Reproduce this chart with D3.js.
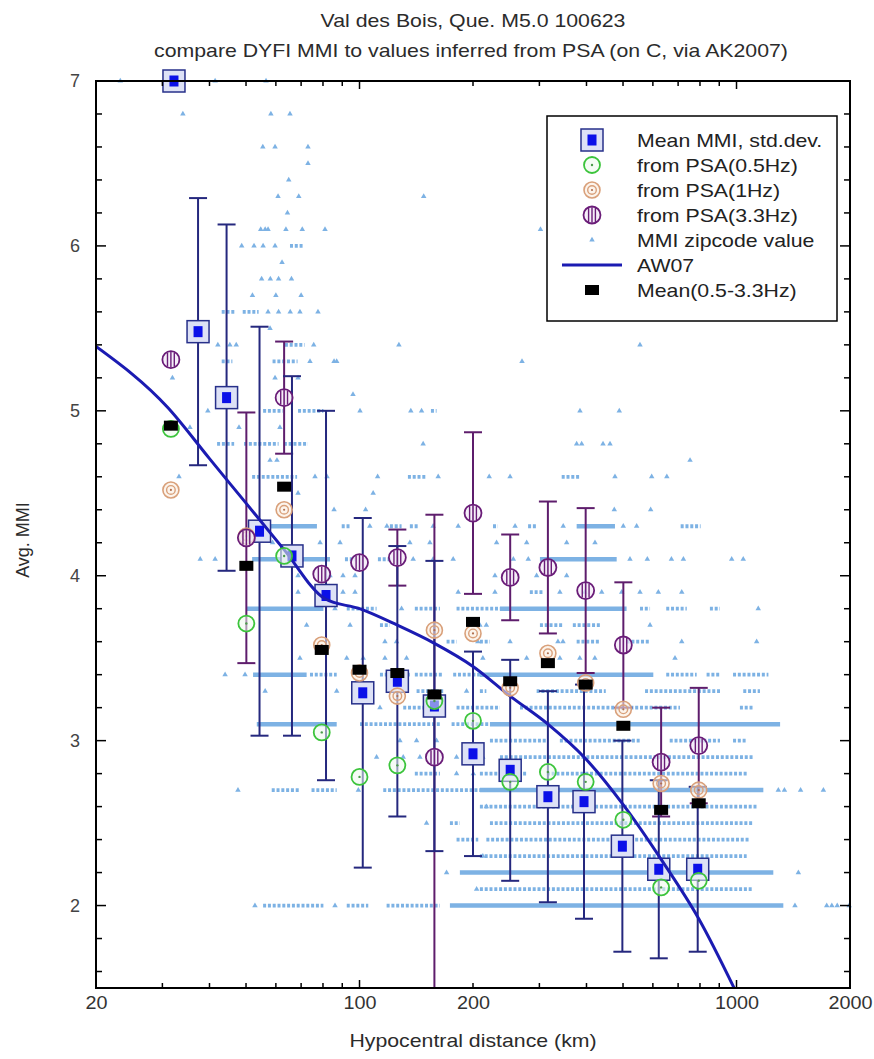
<!DOCTYPE html>
<html>
<head>
<meta charset="utf-8">
<script src="https://cdn.jsdelivr.net/npm/d3@7"></script>
<style>
html, body { margin: 0; padding: 0; background: #fff; overflow: hidden; }
svg { display: block; }
svg text { font-family: "Liberation Sans", Arial, sans-serif; fill: #2b2b2b; }
</style>
</head>
<body>
<div id="chart"></div>
<script>
// ---- mean DYFI MMI per distance bin (km), with std.dev.
const meanDist = [32.2, 37.3, 44.4, 54.3, 66.2, 81.5, 102, 126, 158, 200, 251, 316, 394, 498, 622, 789];
const meanMmi  = [7.00, 5.48, 5.08, 4.27, 4.12, 3.88, 3.29, 3.36, 3.21, 2.92, 2.82, 2.66, 2.63, 2.36, 2.22, 2.22];
const meanSd   = [0, 0.81, 1.05, 1.24, 1.09, 1.12, 1.06, 0.82, 0.88, 0.62, 0.67, 0.64, 0.71, 0.64, 0.54, 0.50];

// ---- MMI inferred from PSA
const psaDist  = [31.6, 50.1, 63.1, 79.4, 100, 126, 158, 200, 251, 316, 398, 501, 631, 794];
const psa05    = [4.89, 3.71, 4.12, 3.05, 2.78, 2.85, 3.24, 3.12, 2.75, 2.81, 2.75, 2.52, 2.11, 2.15];
const psa1     = [4.52, 4.24, 4.40, 3.58, 3.41, 3.27, 3.67, 3.65, 3.32, 3.53, 3.35, 3.19, 2.74, 2.70];
const psa33    = [5.31, 4.23, 5.08, 4.01, 4.08, 4.11, 2.90, 4.38, 3.99, 4.05, 3.91, 3.58, 2.87, 2.97];
const psa33Sd  = [0, 0.76, 0.34, 0, 0, 0.17, 1.47, 0.49, 0.26, 0.40, 0.50, 0.38, 0.33, 0.35];
const psaMean  = [4.91, 4.06, 4.54, 3.55, 3.43, 3.41, 3.28, 3.72, 3.36, 3.47, 3.34, 3.09, 2.58, 2.62];

// ---- AW07 curve
const aw07Dist = [20, 31, 40, 50, 63, 81, 100, 126, 158, 200, 251, 316, 398, 501, 631, 794, 1000];
const aw07Mmi  = [5.39, 5.02, 4.71, 4.44, 4.16, 3.86, 3.80, 3.70, 3.59, 3.45, 3.27, 3.10, 2.89, 2.61, 2.28, 1.92, 1.47];

// ---- zipcode values: packed runs [mmi, from km, to km] and single points [mmi, [km...]]
const zipSolid = [
  [2.0, 173.7, 1331], [2.2, 184.6, 1252], [2.7, 208.6, 1178], [3.1, 221.8, 1305],
  [3.1, 53.4, 87], [3.4, 208.6, 601.6], [3.4, 52.2, 72.4], [3.8, 235.8, 511],
  [3.8, 50.2, 80.2], [4.1, 301, 481], [4.1, 51.9, 83.5], [4.3, 376.7, 476], [4.3, 51.9, 77.1]
];
const zipDotted = [
  [2.0, 55.5, 80.2], [2.0, 92.5, 105.5], [2.0, 118, 163.4],
  [2.1, 208.6, 1108], [2.3, 208.6, 1064],
  [2.4, 180.9, 206.5], [2.4, 217, 1086],
  [2.5, 173.7, 184.6], [2.5, 221.8, 1108], [2.6, 208.6, 1131],
  [2.7, 58.5, 69.5], [2.7, 74.6, 87], [2.7, 115.6, 221.8],
  [2.8, 140.2, 163.4], [2.8, 208.6, 277.6], [2.8, 314, 1064],
  [2.9, 235.8, 1108],
  [3.0, 221.8, 313.7], [3.0, 340, 554.6], [3.0, 665, 904], [3.0, 979, 1064],
  [3.1, 100.3, 163.4], [3.1, 175.5, 221.8],
  [3.2, 130.6, 153.7], [3.2, 180.9, 235.8], [3.2, 266.5, 708], [3.2, 1021, 1108],
  [3.3, 141.7, 166.7], [3.3, 208.6, 217], [3.3, 295, 450], [3.3, 572, 904], [3.3, 1042, 1154],
  [3.4, 73.9, 87], [3.4, 113.3, 136], [3.4, 140.2, 166.7], [3.4, 177.2, 208.6],
  [3.4, 651, 784], [3.4, 833, 904], [3.4, 979, 1215],
  [3.6, 170.2, 180.9], [3.6, 208.6, 221.8], [3.6, 376.7, 434], [3.6, 511, 590],
  [3.7, 113.3, 120.4], [3.7, 301, 346.5], [3.7, 368, 434],
  [3.8, 92.5, 111], [3.8, 140.2, 163.4], [3.8, 180.9, 235.8], [3.8, 554.6, 589.7],
  [3.8, 651, 738], [3.8, 850, 904],
  [3.9, 283, 307],
  [4.1, 91.5, 97.3], [4.1, 111.9, 121.7],
  [4.3, 89.7, 94.4], [4.3, 120.4, 129.3], [4.3, 136, 143.1], [4.3, 226, 233],
  [4.3, 280, 295], [4.3, 711, 803],
  [4.6, 51.9, 68.3], [4.6, 134.4, 150.6], [4.6, 343.8, 384.4],
  [4.8, 41.9, 46.5], [4.8, 49.4, 61], [4.8, 63, 73],
  [5.0, 55.5, 62.6], [5.0, 68.7, 80.2], [5.0, 154.7, 160.1],
  [5.3, 43.1, 46], [5.3, 58.8, 68.5], [5.4, 63.4, 71.5],
  [5.6, 43.1, 47], [5.6, 49, 54], [6.0, 65.4, 70.8]
];
const zipPoints = [
  [7.0, [23.2, 41.4, 56.5]],
  [6.8, [34.0, 58.2, 65.4]],
  [6.6, [55.4, 59.7, 73.0]],
  [6.5, [73.0]],
  [6.4, [64.9]],
  [6.3, [60.8, 69.0, 148]],
  [6.2, [64.4]],
  [6.1, [54.7, 56.2, 57.2, 63.8, 70.5, 81.0, 302]],
  [6.0, [48.7, 52.5, 55.5, 59.7]],
  [5.9, [62.3]],
  [5.8, [55, 58, 61, 66]],
  [5.7, [52, 60, 70]],
  [5.6, [57.2, 61, 65.5, 69.5, 77.6]],
  [5.5, [57.9]],
  [5.4, [42.1, 45.3, 47.1, 75.6, 127.2, 554.6]],
  [5.3, [73.9, 85.6, 87.0, 269.8]],
  [5.2, [31.9, 59.7, 68.7]],
  [5.1, [96.1]],
  [5.0, [39.6, 100.3, 136.8, 146.1, 384.4, 488.7]],
  [4.9, [35.5, 47.9, 61.5]],
  [4.8, [147.5, 376.7, 388.4, 442.5, 461.8]],
  [4.7, [57.9, 60.4, 752.9]],
  [4.6, [33.2, 76.2, 82.0, 111.7, 161.7, 220.8, 250.8, 476, 595.7, 653.4]],
  [4.5, [68.7, 108.7]],
  [4.4, [85.6, 103.8, 474, 592]],
  [4.3, [106.5, 118.2, 156.8, 182.7, 258.6, 347, 500.8, 543.4]],
  [4.2, [58.8, 78.6, 88.8, 136, 153.7, 231, 277.6, 354.4, 421.3]],
  [4.1, [37.8, 41.4, 138.8, 156.8, 177.2, 255.9, 280.3, 521.7, 580, 672, 723, 971, 1042]],
  [4.0, [68.7, 83.5, 90.4, 97.3, 228.7, 295, 354.4]],
  [3.9, [68.7, 90.4, 97.3, 182.7, 228.7, 340, 396, 439, 496, 554.6, 620.3, 715.7]],
  [3.8, [86.1, 129.3, 1142]],
  [3.7, [72.4, 94.4, 208.6, 217, 589.7]],
  [3.6, [116.8, 125.4, 206, 250.8, 336, 346.5, 715.7, 1131]],
  [3.5, [69.5, 92.5, 102.3, 116.8, 133.3, 212.4, 277.6, 340, 384, 421, 686.8]],
  [3.4, [44, 49.7]],
  [3.3, [56.2, 87, 192.3]],
  [3.2, [113.3]],
  [3.0, [128, 141.7, 160.1]],
  [2.9, [111, 130.6, 144.6, 180.9, 212.4]],
  [2.8, [180.9, 200.4]],
  [2.7, [47.6, 99.3, 1291, 1340, 1479, 1700]],
  [2.6, [217]],
  [2.5, [150.6]],
  [2.3, [212.4]],
  [2.2, [170.2, 1459]],
  [2.1, [204.5]],
  [2.0, [52.8, 86.1, 1429, 1735, 1790, 1850, 1990]]
];

// ---- axes
const xTickLabels = [20, 100, 200, 1000, 2000];
const xMajor = [100, 1000];
const xMinor = [30, 40, 50, 60, 70, 80, 90, 200, 300, 400, 500, 600, 700, 800, 900];
const yTickLabels = [2, 3, 4, 5, 6, 7];

const legendLabels = ['Mean MMI, std.dev.', 'from PSA(0.5Hz)', 'from PSA(1Hz)', 'from PSA(3.3Hz)',
  'MMI zipcode value', 'AW07', 'Mean(0.5-3.3Hz)'];

const width = 874, height = 1059,
  margin = {top: 81, right: 24, bottom: 71, left: 96},
  innerWidth = width - margin.left - margin.right,
  innerHeight = height - margin.top - margin.bottom;

const x = d3.scaleLog().domain([20, 2000]).range([margin.left, margin.left + innerWidth]);
const y = d3.scaleLinear().domain([1.5, 7]).range([margin.top + innerHeight, margin.top]);
const yMinor = d3.range(1.6, 7, 0.2).map(v => +v.toFixed(1)).filter(v => Math.abs(v - Math.round(v)) > 0.01);

const colors = {
  zip: '#7db2e4', navy: '#25287e', purple: '#5e1d6c', aw07: '#1b1bb2',
  green: '#3cc43c', orange: '#d9a07a', violet: '#6a1c78'
};

// stretch text a little wider, the original glyphs are broad
function widen(sel, k) {
  sel.each(function() {
    const len = this.getComputedTextLength();
    d3.select(this).attr('textLength', len * k).attr('lengthAdjust', 'spacingAndGlyphs');
  });
}

const svg = d3.select('#chart').append('svg')
  .attr('width', width).attr('height', height);

// titles
svg.append('text').attr('x', 473).attr('y', 27).attr('text-anchor', 'middle')
  .style('font-size', '19px').text('Val des Bois, Que. M5.0 100623').call(widen, 1.12);
svg.append('text').attr('x', 471).attr('y', 57).attr('text-anchor', 'middle')
  .style('font-size', '19px').text('compare DYFI MMI to values inferred from PSA (on C, via AK2007)').call(widen, 1.12);
svg.append('text').attr('x', 473).attr('y', 1047).attr('text-anchor', 'middle')
  .style('font-size', '19px').text('Hypocentral distance (km)').call(widen, 1.12);
svg.append('text').attr('transform', 'translate(29,540) rotate(-90)').attr('text-anchor', 'middle')
  .style('font-size', '18px').text('Avg. MMI');

// ---- zipcode values
const zip = svg.append('g').classed('zip', true);
zip.selectAll('line.solid').data(zipSolid).enter().append('line')
  .classed('solid', true)
  .attr('x1', d => x(d[1])).attr('x2', d => x(d[2]))
  .attr('y1', d => y(d[0])).attr('y2', d => y(d[0]))
  .style('stroke', colors.zip).style('stroke-width', 4.5);
zip.selectAll('line.dotted').data(zipDotted).enter().append('line')
  .classed('dotted', true)
  .attr('x1', d => x(d[1])).attr('x2', d => x(d[2]))
  .attr('y1', d => y(d[0])).attr('y2', d => y(d[0]))
  .style('stroke', colors.zip).style('stroke-width', 3.8)
  .style('stroke-dasharray', '3,1.8');
const zipFlat = zipPoints.flatMap(([m, ds]) => ds.map(d => [m, d]));
zip.selectAll('path').data(zipFlat).enter().append('path')
  .attr('d', d3.symbol(d3.symbolTriangle, 13))
  .attr('transform', d => `translate(${x(d[1])},${y(d[0])})`)
  .style('fill', colors.zip);

// ---- error bars
function errorBars(g, dists, vals, sds, color) {
  const rows = dists.map((d, i) => ({d: d, v: vals[i], s: sds[i]})).filter(r => r.s > 0);
  const bars = g.append('g').style('stroke', color).style('stroke-width', 2);
  bars.selectAll('line.v').data(rows).enter().append('line').classed('v', true)
    .attr('x1', r => x(r.d)).attr('x2', r => x(r.d))
    .attr('y1', r => y(r.v + r.s)).attr('y2', r => y(Math.max(r.v - r.s, 1.5)));
  bars.selectAll('line.top').data(rows).enter().append('line').classed('top', true)
    .attr('x1', r => x(r.d) - 9).attr('x2', r => x(r.d) + 9)
    .attr('y1', r => y(r.v + r.s)).attr('y2', r => y(r.v + r.s));
  bars.selectAll('line.bot').data(rows.filter(r => r.v - r.s >= 1.5)).enter().append('line').classed('bot', true)
    .attr('x1', r => x(r.d) - 9).attr('x2', r => x(r.d) + 9)
    .attr('y1', r => y(r.v - r.s)).attr('y2', r => y(r.v - r.s));
}
errorBars(svg, psaDist, psa33, psa33Sd, colors.purple);
errorBars(svg, meanDist, meanMmi, meanSd, colors.navy);

// ---- marker painters
function squareMark(g, cx, cy) {
  g.append('rect').attr('x', cx - 11).attr('y', cy - 11).attr('width', 22).attr('height', 22)
    .style('fill', '#dde1f6').style('stroke', '#27308a').style('stroke-width', 1.5);
  g.append('rect').attr('x', cx - 4.5).attr('y', cy - 5.5).attr('width', 9).attr('height', 11)
    .style('fill', '#0b10e8');
}
function greenMark(g, cx, cy) {
  g.append('circle').attr('cx', cx).attr('cy', cy).attr('r', 8)
    .style('fill', 'rgba(236,250,236,0.55)').style('stroke', colors.green).style('stroke-width', 1.8);
  g.append('circle').attr('cx', cx).attr('cy', cy).attr('r', 1.2).style('fill', '#4a9a4a');
}
function orangeMark(g, cx, cy) {
  g.append('circle').attr('cx', cx).attr('cy', cy).attr('r', 8)
    .style('fill', 'rgba(250,236,224,0.6)').style('stroke', colors.orange).style('stroke-width', 1.6);
  g.append('circle').attr('cx', cx).attr('cy', cy).attr('r', 4.3)
    .style('fill', 'none').style('stroke', colors.orange).style('stroke-width', 1.4);
  g.append('circle').attr('cx', cx).attr('cy', cy).attr('r', 1.1).style('fill', '#b07050');
}
function violetMark(g, cx, cy) {
  const r = 8.5;
  g.append('circle').attr('cx', cx).attr('cy', cy).attr('r', r)
    .style('fill', 'rgba(242,232,246,0.7)').style('stroke', colors.violet).style('stroke-width', 1.8);
  [-3.4, 0, 3.4].forEach(dx => {
    const h = Math.sqrt(r * r - dx * dx) - 0.8;
    g.append('line').attr('x1', cx + dx).attr('x2', cx + dx).attr('y1', cy - h).attr('y2', cy + h)
      .style('stroke', colors.violet).style('stroke-width', 1.4);
  });
}
function blackMark(g, cx, cy) {
  g.append('rect').attr('x', cx - 7).attr('y', cy - 5).attr('width', 14).attr('height', 10).style('fill', '#000');
}

const marks = svg.append('g').classed('marks', true);
meanDist.forEach((d, i) => squareMark(marks, x(d), y(meanMmi[i])));

// AW07
const clipId = 'plotclip';
svg.append('clipPath').attr('id', clipId).append('rect')
  .attr('x', margin.left).attr('y', margin.top).attr('width', innerWidth).attr('height', innerHeight);
const awLine = d3.line().x(d => x(d[0])).y(d => y(d[1])).curve(d3.curveMonotoneX);
svg.append('path')
  .datum(aw07Dist.map((d, i) => [d, aw07Mmi[i]]))
  .attr('clip-path', `url(#${clipId})`)
  .attr('d', awLine)
  .style('fill', 'none').style('stroke', colors.aw07).style('stroke-width', 3);

const psaG = svg.append('g').classed('psa', true);
psaDist.forEach((d, i) => greenMark(psaG, x(d), y(psa05[i])));
psaDist.forEach((d, i) => orangeMark(psaG, x(d), y(psa1[i])));
psaDist.forEach((d, i) => violetMark(psaG, x(d), y(psa33[i])));
psaDist.forEach((d, i) => blackMark(psaG, x(d), y(psaMean[i])));

// ---- frame and ticks
svg.append('rect').attr('x', margin.left).attr('y', margin.top)
  .attr('width', innerWidth).attr('height', innerHeight)
  .style('fill', 'none').style('stroke', '#000').style('stroke-width', 2);

const ticks = svg.append('g').style('stroke', '#000').style('stroke-width', 1.5);
const yBot = margin.top + innerHeight, xRight = margin.left + innerWidth;
function xTicks(vals, len) {
  ticks.selectAll(null).data(vals).enter().append('line')
    .attr('x1', d => x(d)).attr('x2', d => x(d)).attr('y1', yBot).attr('y2', yBot - len);
  ticks.selectAll(null).data(vals).enter().append('line')
    .attr('x1', d => x(d)).attr('x2', d => x(d)).attr('y1', margin.top).attr('y2', margin.top + len);
}
function yTicks(vals, len) {
  ticks.selectAll(null).data(vals).enter().append('line')
    .attr('x1', margin.left).attr('x2', margin.left + len).attr('y1', d => y(d)).attr('y2', d => y(d));
  ticks.selectAll(null).data(vals).enter().append('line')
    .attr('x1', xRight).attr('x2', xRight - len).attr('y1', d => y(d)).attr('y2', d => y(d));
}
xTicks(xMajor, 8);
xTicks(xMinor, 5);
yTicks(yTickLabels, 10);
yTicks(yMinor, 6);

const xAxis = d3.axisBottom(x).tickValues(xTickLabels).tickSize(0).tickPadding(8).tickFormat(d3.format('d'));
const xg = svg.append('g').attr('transform', `translate(0,${yBot})`).call(xAxis);
xg.select('.domain').remove();
xg.selectAll('text').style('font-size', '18px').style('fill', '#333').call(widen, 1.1);

const yAxis = d3.axisLeft(y).tickValues(yTickLabels).tickSize(0).tickPadding(16).tickFormat(d3.format('d'));
const yg = svg.append('g').attr('transform', `translate(${margin.left},0)`).call(yAxis);
yg.select('.domain').remove();
yg.selectAll('text').style('font-size', '18px').style('fill', '#444');

// ---- legend
const lg = svg.append('g').classed('legend', true);
lg.append('rect').attr('x', 547).attr('y', 116).attr('width', 290).attr('height', 205)
  .style('fill', '#fff').style('stroke', '#000').style('stroke-width', 1.5);
const lx = 592, ly0 = 140, lstep = 25;
squareMark(lg, lx, ly0);
greenMark(lg, lx, ly0 + lstep);
orangeMark(lg, lx, ly0 + 2 * lstep);
violetMark(lg, lx, ly0 + 3 * lstep);
lg.append('path').attr('d', d3.symbol(d3.symbolTriangle, 13))
  .attr('transform', `translate(${lx},${ly0 + 4 * lstep})`).style('fill', colors.zip);
lg.append('line').attr('x1', lx - 30).attr('x2', lx + 30)
  .attr('y1', ly0 + 5 * lstep).attr('y2', ly0 + 5 * lstep)
  .style('stroke', colors.aw07).style('stroke-width', 3);
blackMark(lg, lx, ly0 + 6 * lstep);
lg.selectAll('text').data(legendLabels).enter().append('text')
  .attr('x', 637).attr('y', (d, i) => ly0 + i * lstep).attr('dy', '0.35em')
  .style('font-size', '19px').style('fill', '#222')
  .text(d => d).call(widen, 1.12);
</script>
</body>
</html>
